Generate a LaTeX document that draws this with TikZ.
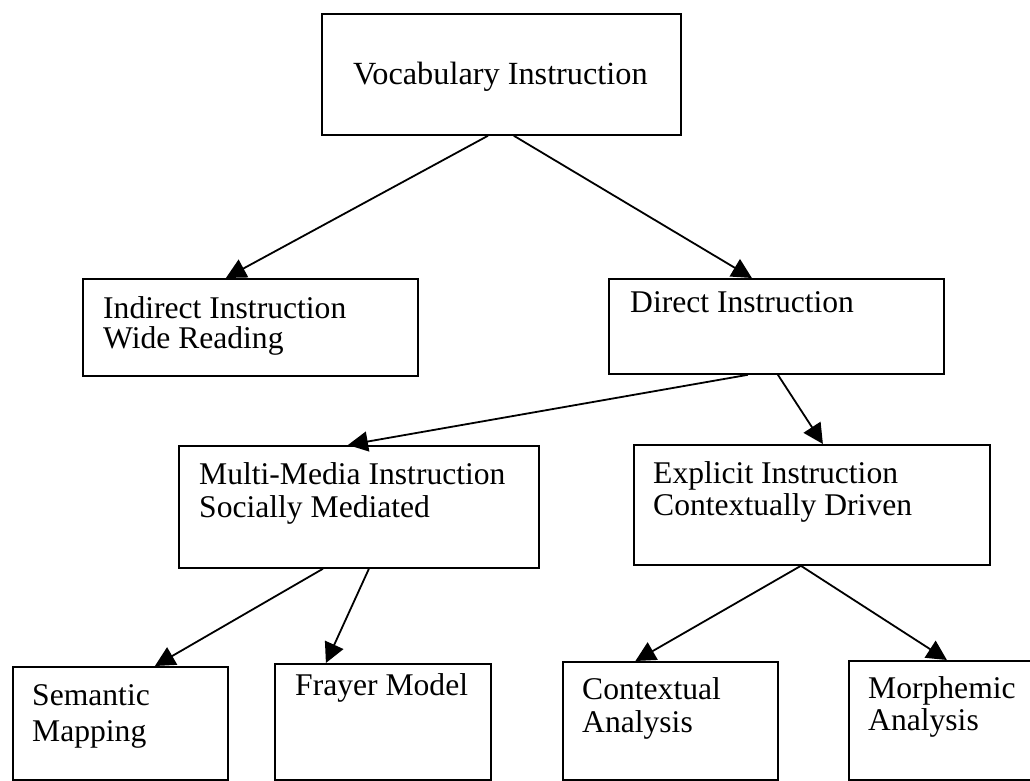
\documentclass[tikz,border=0pt]{standalone}
\usepackage{fontspec}
\setmainfont{Liberation Serif}
\usetikzlibrary{arrows.meta}
\begin{document}
\begin{tikzpicture}[x=1pt,y=-1pt,
  box/.style={draw=black, line width=1.8pt, fill=white, rectangle, inner sep=0pt, anchor=north west},
  txt/.style={anchor=base west, inner sep=0pt, font=\fontsize{31.6}{33}\selectfont},
  conn/.style={draw=black, line width=1.8pt, -{Triangle[length=20pt,width=20pt]}}]
\useasboundingbox (0,0) rectangle (1030,781);
\clip (0,0) rectangle (1030,781);
% boxes
\node[box, minimum width=359pt, minimum height=121pt] (v) at (321,13) {};
\node[box, minimum width=335pt, minimum height=97pt] (i) at (82,278) {};
\node[box, minimum width=335pt, minimum height=95pt] (d) at (608,278) {};
\node[box, minimum width=360pt, minimum height=122pt] (m) at (178,445) {};
\node[box, minimum width=356pt, minimum height=120pt] (e) at (633,444) {};
\node[box, minimum width=215pt, minimum height=113pt] (s) at (12,666) {};
\node[box, minimum width=216pt, minimum height=116pt] (f) at (274,663) {};
\node[box, minimum width=215pt, minimum height=118pt] (c) at (562,661) {};
\node[box, minimum width=215pt, minimum height=119pt] (mo) at (848,660) {};
% texts
\node[txt, font=\fontsize{32.3}{33}\selectfont] (vt) at (353,85) {Vocabulary Instruction};
\node[txt] (it1) at (103,318) {Indirect Instruction};
\node[txt] (it2) at (103,348) {Wide Reading};
\node[txt] (dt) at (630,312) {Direct Instruction};
\node[txt] (mt1) at (199,484) {Multi-Media Instruction};
\node[txt] (mt2) at (199,517) {Socially Mediated};
\node[txt] (et1) at (653,483) {Explicit Instruction};
\node[txt] (et2) at (653,515) {Contextually Driven};
\node[txt] (st1) at (32,705) {Semantic};
\node[txt] (st2) at (32,741) {Mapping};
\node[txt] (ft) at (295,695) {Frayer Model};
\node[txt] (ct1) at (582,699) {Contextual};
\node[txt] (ct2) at (582,732) {Analysis};
\node[txt] (mot1) at (868,698) {Morphemic};
\node[txt] (mot2) at (868,730) {Analysis};
% connectors
\draw[conn] ([xshift=-13.5pt]v.south) -- ([xshift=-24.5pt]i.north);
\draw[conn] ([xshift=12.5pt]v.south) -- ([xshift=-24.5pt]d.north);
\draw[conn] ([xshift=-28.5pt]d.south) -- ([xshift=-11pt]m.north);
\draw[conn] ([xshift=1.5pt]d.south) -- ([xshift=11pt]e.north);
\draw[conn] ([xshift=-36pt]m.south) -- ([xshift=34.5pt]s.north);
\draw[conn] ([xshift=10pt]m.south) -- ([xshift=-57pt]f.north);
\draw[conn] ([xshift=-11pt]e.south) -- ([xshift=-35pt]c.north);
\draw[conn] ([xshift=-11pt]e.south) -- ([xshift=-9.5pt]mo.north);
\end{tikzpicture}
\end{document}
